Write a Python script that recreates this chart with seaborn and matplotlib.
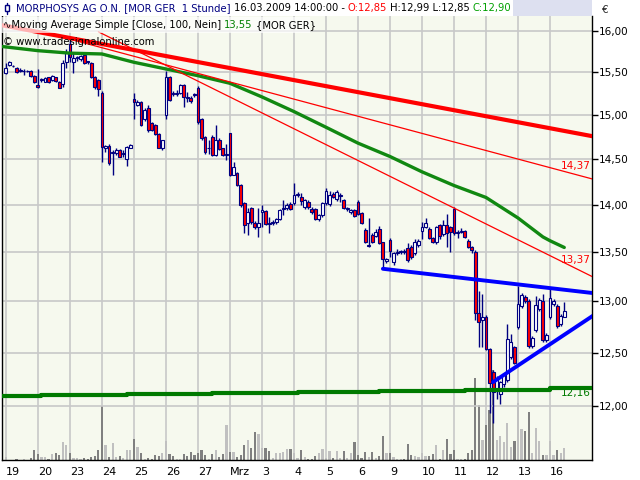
import matplotlib
matplotlib.use("Agg")
import matplotlib.pyplot as plt
import matplotlib.ticker as mticker
from matplotlib.patches import Rectangle
from matplotlib.lines import Line2D
import numpy as np
import pandas as pd
import seaborn as sns

sns.set_theme(style="white")
plt.rcParams["font.family"] = ["DejaVu Sans"]

# ── Daten (1-Stunden-Kerzen, 9 Kerzen pro Handelstag) ───────────────
tage = ["19", "20", "23", "24", "25", "26", "27", "Mrz", "3", "4",
        "5", "6", "9", "10", "11", "12", "13", "16"]
tag_start = [0, 9, 18, 27, 36, 45, 54, 63, 72, 81, 90, 99, 108, 117, 126, 135, 144, 153]

eroeffnung = [
    15.49, 15.59, 15.58, 15.55, 15.52, 15.51, 15.52, 15.51, 15.46,
    15.35, 15.41, 15.39, 15.44, 15.41, 15.44, 15.39, 15.36, 15.62,
    15.84, 15.62, 15.67, 15.66, 15.71, 15.63, 15.61, 15.45, 15.41,
    15.26, 14.63, 14.65, 14.57, 14.57, 14.60, 14.56, 14.50, 14.63,
    15.19, 15.12, 15.15, 14.95, 15.08, 14.91, 14.89, 14.78, 14.63,
    15.00, 15.44, 15.26, 15.25, 15.26, 15.35, 15.21, 15.20, 15.24,
    15.32, 14.96, 14.75, 14.62, 14.75, 14.55, 14.72, 14.62, 14.55,
    14.79, 14.33, 14.35, 14.22, 14.02, 13.81, 13.97, 13.81, 13.76,
    13.92, 13.93, 13.81, 13.81, 13.82, 13.85, 13.96, 13.97, 14.01,
    14.02, 14.11, 14.08, 13.98, 14.03, 13.96, 13.96, 13.85, 13.89,
    14.02, 14.01, 14.12, 14.06, 14.10, 14.05, 13.96, 13.92, 13.95,
    14.03, 13.91, 13.73, 13.57, 13.68, 13.67, 13.74, 13.61, 13.41,
    13.63, 13.40, 13.49, 13.50, 13.51, 13.54, 13.55, 13.49, 13.58,
    13.72, 13.76, 13.74, 13.65, 13.61, 13.79, 13.69, 13.79, 13.76,
    13.96, 13.70, 13.71, 13.72, 13.62, 13.55, 13.50, 12.89, 12.82,
    12.85, 12.53, 12.31, 12.14, 12.11, 12.20, 12.24, 12.46, 12.55,
    12.75, 12.95, 13.04, 13.00, 12.56, 12.72, 12.92, 13.00, 12.62,
    12.85, 12.97, 12.95, 12.78, 12.85,
]
hoch = [
    15.61, 15.64, 15.59, 15.56, 15.55, 15.54, 15.53, 15.53, 15.47,
    15.54, 15.43, 15.44, 15.45, 15.47, 15.45, 15.40, 15.65, 15.78,
    15.90, 15.73, 15.70, 15.71, 15.73, 15.64, 15.62, 15.46, 15.42,
    15.28, 14.66, 14.67, 14.60, 14.62, 14.61, 14.60, 14.65, 14.67,
    15.26, 15.17, 15.16, 15.08, 15.12, 14.92, 14.90, 14.79, 14.72,
    15.52, 15.46, 15.28, 15.29, 15.36, 15.36, 15.27, 15.22, 15.26,
    15.34, 14.97, 14.76, 14.72, 14.77, 14.89, 14.74, 14.63, 14.67,
    14.80, 14.47, 14.36, 14.23, 14.03, 13.97, 13.98, 13.83, 13.97,
    14.00, 13.95, 13.87, 13.84, 13.86, 13.96, 14.05, 14.02, 14.03,
    14.24, 14.14, 14.13, 14.06, 14.05, 13.98, 13.97, 13.90, 14.03,
    14.18, 14.15, 14.14, 14.16, 14.13, 14.06, 13.98, 13.96, 13.96,
    14.05, 13.92, 13.75, 13.86, 13.70, 13.74, 13.78, 13.61, 13.44,
    13.65, 13.50, 13.53, 13.52, 13.53, 13.60, 13.58, 13.64, 13.64,
    13.82, 13.86, 13.76, 13.66, 13.78, 13.80, 13.84, 13.90, 13.78,
    13.98, 13.73, 13.75, 13.73, 13.64, 13.57, 13.52, 13.10, 13.07,
    12.87, 12.54, 12.33, 12.28, 12.23, 12.30, 12.78, 12.68, 12.56,
    13.15, 13.08, 13.06, 13.02, 12.66, 13.05, 13.03, 13.07, 12.69,
    13.12, 13.02, 12.97, 12.88, 12.99,
]
tief = [
    15.48, 15.58, 15.56, 15.49, 15.50, 15.47, 15.50, 15.45, 15.37,
    15.31, 15.39, 15.38, 15.37, 15.40, 15.39, 15.31, 15.33, 15.55,
    15.62, 15.49, 15.64, 15.64, 15.60, 15.60, 15.43, 15.30, 15.22,
    14.47, 14.58, 14.44, 14.33, 14.55, 14.52, 14.52, 14.43, 14.62,
    14.95, 15.10, 14.87, 14.93, 14.81, 14.82, 14.77, 14.62, 14.60,
    14.95, 15.16, 15.22, 15.22, 15.25, 15.09, 15.15, 15.14, 15.21,
    14.90, 14.72, 14.56, 14.56, 14.54, 14.54, 14.60, 14.54, 14.49,
    14.31, 14.32, 14.20, 13.98, 13.70, 13.68, 13.80, 13.74, 13.66,
    13.76, 13.79, 13.70, 13.79, 13.80, 13.84, 13.89, 13.95, 13.95,
    14.00, 14.09, 14.00, 13.96, 13.96, 13.90, 13.84, 13.83, 13.87,
    14.00, 13.99, 14.07, 14.04, 14.03, 13.96, 13.94, 13.90, 13.87,
    13.89, 13.80, 13.60, 13.56, 13.60, 13.66, 13.59, 13.34, 13.39,
    13.45, 13.37, 13.47, 13.48, 13.48, 13.40, 13.43, 13.47, 13.56,
    13.64, 13.75, 13.64, 13.60, 13.59, 13.64, 13.67, 13.55, 13.50,
    13.68, 13.65, 13.70, 13.65, 13.54, 13.49, 12.82, 12.55, 12.55,
    12.52, 11.93, 11.84, 12.06, 12.02, 12.17, 12.22, 12.44, 12.39,
    12.73, 12.93, 12.98, 12.54, 12.54, 12.70, 12.90, 12.60, 12.60,
    12.83, 12.95, 12.74, 12.76, 12.85,
]
schluss = [
    15.55, 15.62, 15.57, 15.50, 15.53, 15.52, 15.51, 15.46, 15.38,
    15.33, 15.42, 15.43, 15.38, 15.46, 15.40, 15.32, 15.61, 15.73,
    15.68, 15.67, 15.68, 15.69, 15.61, 15.62, 15.44, 15.33, 15.30,
    14.64, 14.65, 14.46, 14.58, 14.60, 14.53, 14.57, 14.64, 14.66,
    15.15, 15.15, 14.89, 15.06, 14.83, 14.83, 14.78, 14.63, 14.71,
    15.44, 15.18, 15.25, 15.26, 15.35, 15.21, 15.20, 15.16, 15.23,
    14.92, 14.74, 14.58, 14.63, 14.55, 14.72, 14.61, 14.55, 14.56,
    14.33, 14.41, 14.22, 14.00, 13.79, 13.92, 13.82, 13.76, 13.81,
    13.95, 13.80, 13.80, 13.82, 13.85, 13.95, 13.97, 14.00, 13.96,
    14.11, 14.12, 14.04, 14.05, 13.98, 13.92, 13.85, 13.89, 14.02,
    14.15, 14.11, 14.09, 14.14, 14.10, 13.97, 13.96, 13.95, 13.88,
    13.90, 13.81, 13.61, 13.58, 13.61, 13.71, 13.60, 13.43, 13.43,
    13.51, 13.49, 13.50, 13.51, 13.50, 13.42, 13.45, 13.61, 13.62,
    13.76, 13.81, 13.65, 13.61, 13.76, 13.67, 13.79, 13.70, 13.71,
    13.70, 13.71, 13.72, 13.66, 13.56, 13.52, 12.89, 12.80, 12.85,
    12.53, 12.21, 12.13, 12.25, 12.22, 12.29, 12.63, 12.60, 12.40,
    12.97, 13.06, 13.00, 12.56, 12.64, 12.96, 13.01, 12.62, 12.67,
    13.03, 13.00, 12.76, 12.86, 12.90,
]
# Umsatz in Tsd. Stück
umsatz = [
    3, 0, 0, 1, 0, 1, 0, 2, 10,
    6, 3, 3, 1, 6, 7, 5, 18, 15,
    7, 2, 2, 1, 2, 1, 3, 4, 10,
    54, 15, 3, 17, 3, 4, 2, 10, 10,
    21, 13, 7, 1, 2, 1, 5, 4, 7,
    19, 6, 4, 1, 1, 6, 4, 8, 5,
    7, 10, 5, 1, 6, 10, 3, 6, 35,
    8, 8, 3, 5, 15, 20, 12, 28, 26,
    12, 12, 9, 2, 7, 7, 8, 11, 11,
    7, 2, 10, 3, 1, 1, 4, 7, 11,
    2, 9, 2, 9, 2, 9, 2, 7, 18,
    5, 2, 8, 3, 8, 2, 4, 24, 7,
    7, 3, 1, 1, 1, 16, 5, 4, 3,
    7, 4, 4, 6, 15, 1, 10, 21, 6,
    10, 1, 1, 1, 7, 10, 82, 55, 20,
    35, 50, 90, 20, 24, 18, 37, 13, 19,
    57, 31, 29, 48, 7, 32, 19, 5, 5,
    19, 5, 10, 7, 12,
]

# Gleitender Durchschnitt 100 (Stützstellen)
gd_x = [-1, 9, 18, 27, 36, 45, 54, 63, 72, 81, 90, 99, 108, 117, 126, 135, 144, 151, 153, 157]
gd_y = [15.81, 15.76, 15.73, 15.72, 15.62, 15.54, 15.46, 15.37, 15.21, 15.04,
        14.86, 14.68, 14.53, 14.36, 14.21, 14.08, 13.86, 13.66, 13.62, 13.55]

# langfristige Linie (Stufen)
stufe_x = [-1, 10, 34, 58, 82, 105, 129, 153, 166]
stufe_y = [12.09, 12.10, 12.11, 12.12, 12.13, 12.14, 12.15, 12.16, 12.16]

# Trendlinien (Bar-Index, Kurs)
trend_rot_x, trend_rot_y = [-1, 166], [16.07, 14.75]
trend_a_x, trend_a_y = [18, 166], [15.90, 14.27]
trend_b_x, trend_b_y = [26, 166], [15.99, 13.23]
blau_oben_x, blau_oben_y = [106, 166], [13.33, 13.08]
blau_unten_x, blau_unten_y = [137, 166], [12.22, 12.88]

W, H = 640, 480
NAVY = "#000080"
ROT = "#ff0000"
GRUEN = "#008000"
BLAU = "#0000ff"
HINTERGRUND = "#f6f9ee"
GITTER = "#c8c8c8"

fig = plt.figure(figsize=(6.4, 4.8), dpi=100)
fig.patch.set_facecolor("white")
rect = [2 / W, 20 / H, 590 / W, 444 / H]
ax_vol = fig.add_axes(rect)
ax = fig.add_axes(rect, sharex=ax_vol)
ax_vol.set_facecolor(HINTERGRUND)
ax.patch.set_visible(False)

x = np.arange(len(schluss))
df = pd.DataFrame({"o": eroeffnung, "h": hoch, "l": tief, "c": schluss, "v": umsatz}, index=x)
abwaerts = df["c"] < df["o"]

# Umsatz
vol_farben = np.where(abwaerts, "#808080", "#c0c0c0")
ax_vol.bar(x, df["v"], width=0.62, color=vol_farben, linewidth=0)
ax_vol.set_ylim(0, 444)
ax_vol.set_yticks([])
ax_vol.set_xticks(tag_start)
ax_vol.grid(axis="x", color=GITTER, lw=1.2)
ax_vol.tick_params(axis="x", labelbottom=False, length=0)
for s in ax_vol.spines.values():
    s.set_visible(False)

# Kerzen
ax.set_yscale("log")
ax.vlines(x, df["l"], df["h"], color=NAVY, lw=1, zorder=3)
koerper = (df["c"] - df["o"]).abs().clip(lower=0.004)
unten = df[["o", "c"]].min(axis=1)
ax.bar(x, koerper, bottom=unten, width=0.8,
       color=np.where(abwaerts, ROT, "white"), edgecolor=NAVY, lw=0.8, zorder=4)

# Linien
sns.lineplot(x=gd_x, y=gd_y, ax=ax, color="#118811", lw=2.4, zorder=5)
ax.step(stufe_x, stufe_y, where="post", color="#007a00", lw=3, zorder=5)
sns.lineplot(x=trend_rot_x, y=trend_rot_y, ax=ax, color=ROT, lw=3, zorder=5)
sns.lineplot(x=trend_a_x, y=trend_a_y, ax=ax, color=ROT, lw=0.9, zorder=5)
sns.lineplot(x=trend_b_x, y=trend_b_y, ax=ax, color=ROT, lw=0.9, zorder=5)
sns.lineplot(x=blau_oben_x, y=blau_oben_y, ax=ax, color=BLAU, lw=2.8, zorder=6)
sns.lineplot(x=blau_unten_x, y=blau_unten_y, ax=ax, color=BLAU, lw=2.8, zorder=6)

x_rechts = 164.8
ax.text(x_rechts - 0.3, 14.37, "14,37", color=ROT, fontsize=7.5, ha="right", va="bottom", zorder=7)
ax.text(x_rechts - 0.3, 13.37, "13,37", color=ROT, fontsize=7.5, ha="right", va="bottom", zorder=7)
ax.text(x_rechts - 0.3, 12.16, "12,16", color="#007a00", fontsize=7.5, ha="right", va="top", zorder=7)

ax.set_xlim(-1.1, x_rechts)
ax.set_ylim(11.51, 16.185)

preis_ticks = [12.0, 12.5, 13.0, 13.5, 14.0, 14.5, 15.0, 15.5, 16.0]
ax.yaxis.set_major_locator(mticker.FixedLocator(preis_ticks))
ax.yaxis.set_minor_locator(mticker.NullLocator())
ax.yaxis.set_major_formatter(mticker.FuncFormatter(lambda v, _: f"{v:.2f}".replace(".", ",")))
ax.yaxis.tick_right()
ax.grid(axis="y", color=GITTER, lw=1.2, zorder=0)
ax.grid(axis="x", visible=False)
ax.tick_params(axis="y", direction="out", length=4, width=1, color="black",
               labelsize=7.5, pad=1, labelcolor="black")

ax.set_xticks(tag_start)
ax.set_xticklabels(tage)
ax.tick_params(axis="x", direction="out", length=3, width=1, color="black",
               labelsize=8, pad=2, labelcolor="black")
for lbl in ax.get_xticklabels():
    lbl.set_ha("left")
ax.set_xlabel("")
ax.set_ylabel("")

for name, s in ax.spines.items():
    s.set_color("black")
    s.set_linewidth(1)
ax.spines["top"].set_visible(False)

# ── Kopfzeilen ────────────────────────────────────────────────
fig.add_artist(Rectangle((0, 1 - 16 / H), 592 / W, 16 / H, transform=fig.transFigure,
                         facecolor="#dde0f0", edgecolor="none", zorder=8))
fig.add_artist(Rectangle((0, 1 - 16 / H), 513 / W, 16 / H, transform=fig.transFigure,
                         facecolor="white", edgecolor="none", zorder=8))
fig.add_artist(Rectangle((0, 1 - 33 / H), 310 / W, 16 / H, transform=fig.transFigure,
                         facecolor="white", alpha=0.7, edgecolor="none", zorder=8))
# Kerzensymbol
fig.add_artist(Line2D([7 / W, 7 / W], [1 - 3 / H, 1 - 14 / H], transform=fig.transFigure,
                      color=NAVY, lw=1, zorder=9))
fig.add_artist(Rectangle((5 / W, 1 - 11 / H), 4 / W, 6 / H, transform=fig.transFigure,
                         facecolor="white", edgecolor=NAVY, lw=1, zorder=9))

renderer = fig.canvas.get_renderer()


def zeile(x_px, y_px, teile, groesse):
    for text, farbe in teile:
        t = fig.text(x_px / W, 1 - y_px / H, text, color=farbe, fontsize=groesse,
                     ha="left", va="center", zorder=10)
        x_px += t.get_window_extent(renderer).width + 3


zeile(16, 8, [("MORPHOSYS AG O.N. [MOR GER  1 Stunde]", NAVY),
              ("16.03.2009 14:00:00 -", "black"),
              ("O:12,85", ROT),
              ("H:12,99 L:12,85", "black"),
              ("C:12,90", "#00a000")], 7.2)
zeile(3, 25, [("∿Moving Average Simple [Close, 100, Nein]", "black"),
              ("13,55", GRUEN),
              ("{MOR GER}", "black")], 7.2)
zeile(3, 42, [("© www.tradesignalonline.com", "black")], 7.2)
fig.text(602 / W, 1 - 10 / H, "€", fontsize=7.5, ha="left", va="center")

fig.savefig("out.png", dpi=100, facecolor="white")
